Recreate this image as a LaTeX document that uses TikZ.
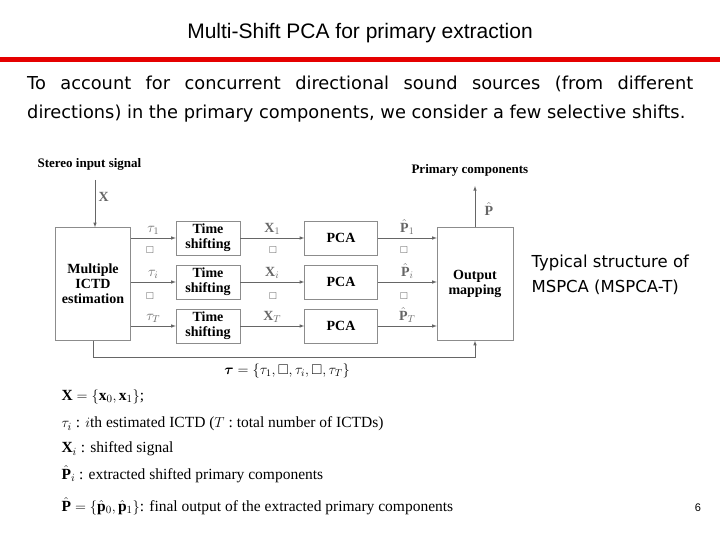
\documentclass[tikz,border=0pt]{standalone}
\usepackage{amsmath,amssymb}
\usepackage{bm}
\usepackage{fontspec}
\setmainfont{Liberation Serif}
\newfontfamily\titlefont{Liberation Sans}
\newfontfamily\slidefont{DejaVu Sans}
\usetikzlibrary{arrows,positioning,calc}
\tikzset{
  blk/.style = {draw = black!45, fill = white, font = \bfseries\fontsize{14}{15}\selectfont, align = center, inner sep = 0pt},
  flow/.style = {->, >=latex, black!60, semithick},
  lbl/.style = {font = \fontsize{14}{15}\selectfont},
  note/.style = {font = \fontsize{15.5}{17}\selectfont, anchor = west},
  gap/.style = {font = \fontsize{10}{11}\selectfont, text = black!70}
}
\begin{document}
\begin{tikzpicture}[x = 1pt, y = -1pt]
  \useasboundingbox (0,0) rectangle (720,540);
  \node[font = \titlefont\fontsize{21}{24}\selectfont] (title) at (360,33) {Multi-Shift PCA for primary extraction};
  \fill[red!90!black] (0,57) rectangle (720,62);
  \node[font = \slidefont\fontsize{17.8}{29}\selectfont, text width = 666pt, align = justify, inner sep = 0pt, anchor = north west] (intro) at (27,76)
    {To account for concurrent directional sound sources (from different\linebreak directions) in the primary components, we consider a few selective shifts.};
  % diagram blocks
  \node[blk, minimum width = 75pt, minimum height = 113pt] (est) at (93,284) {Multiple\\ICTD\\estimation};
  \node[blk, minimum width = 64pt, minimum height = 34pt] (ts1) at (208,238) {Time\\shifting};
  \node[blk, minimum width = 64pt, minimum height = 34pt] (tsi) at (208,282) {Time\\shifting};
  \node[blk, minimum width = 64pt, minimum height = 34pt] (tsT) at (208,326) {Time\\shifting};
  \node[blk, minimum width = 73pt, minimum height = 34pt] (pca1) at (341,238) {PCA};
  \node[blk, minimum width = 73pt, minimum height = 34pt] (pcai) at (341,282) {PCA};
  \node[blk, minimum width = 73pt, minimum height = 34pt] (pcaT) at (341,326) {PCA};
  \node[blk, minimum width = 76pt, minimum height = 113pt] (out) at (475,284) {Output\\mapping};
  \node[font = \bfseries\fontsize{13}{14}\selectfont, anchor = west] (in) at (34,164) {Stereo input signal};
  \node[font = \bfseries\fontsize{13}{14}\selectfont, anchor = west] (prim) at (408,170) {Primary components};
  \coordinate (intop) at (95,180);
  \coordinate (outtop) at (475,186);
  \draw[flow] (intop) -- (intop |- est.north) node[pos = .35, right, lbl] {$\mathbf{X}$};
  \draw[flow] (out.north) -- (outtop) node[pos = .45, right = 6pt, lbl] {$\hat{\mathbf{P}}$};
  \foreach \r/\t/\x/\p in {1/1/1/1, i/i/i/i, T/T/T/T} {
    \draw[flow] (est.east |- ts\r) -- (ts\r.west) node[midway, above, lbl] {$\tau_{\t}$};
    \draw[flow] (ts\r.east) -- (pca\r.west) node[midway, above, lbl] {$\mathbf{X}_{\x}$};
    \draw[flow] (pca\r.east) -- (out.west |- pca\r) node[midway, above, lbl] {$\hat{\mathbf{P}}_{\p}$};
  }
  \foreach \y in {250, 296} {
    \node[gap] at (150,\y) {$\square$};
    \node[gap] at (273,\y) {$\square$};
    \node[gap] at (404,\y) {$\square$};
  }
  \coordinate (fb) at (93,357);
  \draw[flow] (fb |- est.south) -- (fb) -| (out.south);
  \node[lbl] (tauset) at (287,371) {$\bm{\tau} = \left\{\tau_1, \square, \tau_i, \square, \tau_T\right\}$};
  % legend
  \node[note] (l1) at (58,397) {$\mathbf{X} = \left\{\mathbf{x}_0, \mathbf{x}_1\right\}$;};
  \node[note] (l2) at (58,424) {$\tau_i$ : $i$th estimated ICTD ($T$ :\ total number of ICTDs)};
  \node[note] (l3) at (58,449) {$\mathbf{X}_i$ : shifted signal};
  \node[note] (l4) at (58,474) {$\hat{\mathbf{P}}_i$ : extracted shifted primary components};
  \node[note] (l5) at (58,506) {$\hat{\mathbf{P}} = \left\{\hat{\mathbf{p}}_0, \hat{\mathbf{p}}_1\right\}$: final output of the extracted primary components};
  \node[font = \slidefont\fontsize{16.5}{25}\selectfont, align = left, anchor = west] (typ) at (528,275) {Typical structure of\\MSPCA (MSPCA-T)};
  \node[font = \titlefont\fontsize{11}{12}\selectfont] (page) at (698,508) {6};
\end{tikzpicture}
\end{document}
